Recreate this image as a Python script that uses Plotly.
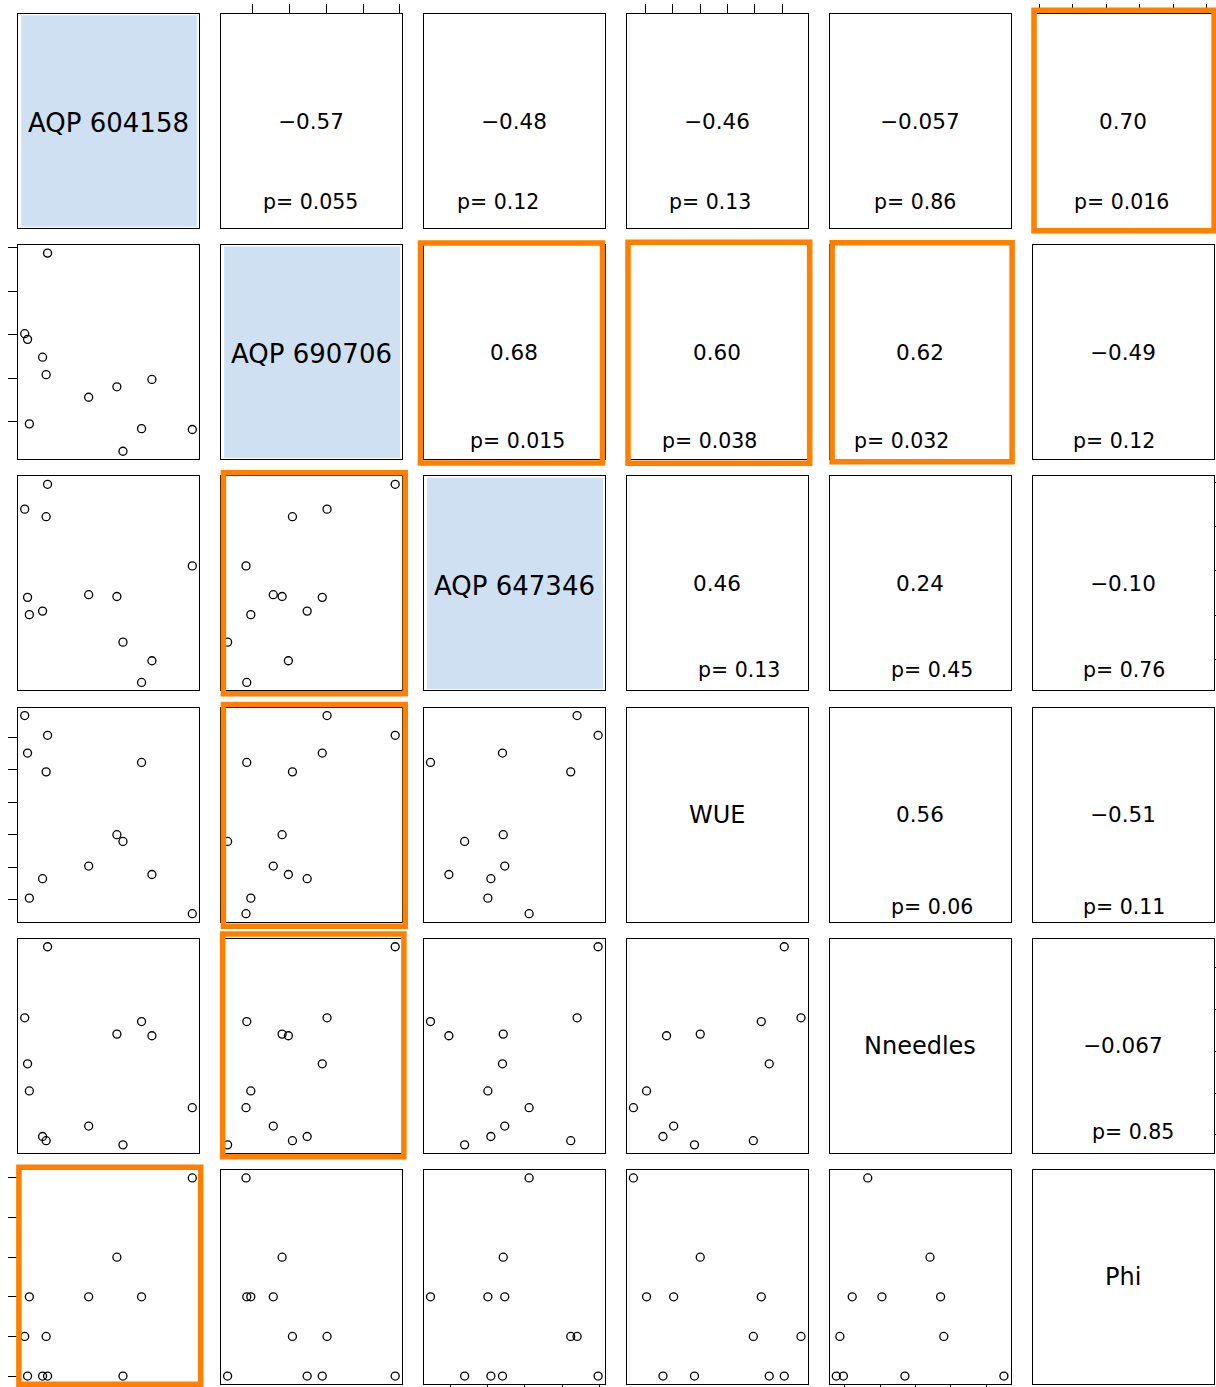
import numpy as np
import plotly.graph_objects as go

# ---------------- data ----------------
var_names = ["AQP 604158", "AQP 690706", "AQP 647346", "WUE", "Nneedles", "Phi"]

aqp_604158 = [0.72, 0.08, 0.16, 0.58, 0.68, 1.87, 2.66, 3.64, 0.21, 3.35, 4.77, 2.83]
aqp_690706 = [4.87, 3.02, 2.89, 2.48, 2.08, 1.56, 1.80, 1.97, 0.95, 0.84, 0.82, 0.32]
aqp_647346 = [4.95, 4.39, 2.40, 2.09, 4.22, 2.46, 2.42, 0.97, 2.01, 0.48, 3.11, 1.39]
wue = [7.07, 7.68, 6.52, 2.64, 5.94, 3.03, 4.00, 2.77, 2.04, 6.23, 1.56, 3.79]
nneedles = [65.0, 48.0, 37.0, 19.6, 18.6, 22.1, 44.1, 43.7, 30.5, 47.1, 26.5, 17.6]
phi = [0.75, 0.76, 0.75, 0.75, 0.76, 0.77, 0.78, None, 0.77, 0.77, 0.80, 0.75]

ticks_604158 = [0, 1, 2, 3, 4]
ticks_690706 = [1, 2, 3, 4, 5]
ticks_647346 = [1, 2, 3, 4, 5]
ticks_wue = [2, 3, 4, 5, 6, 7]
ticks_nneedles = [20, 30, 40, 50, 60]
ticks_phi = [0.75, 0.76, 0.77, 0.78, 0.79, 0.80]

# upper-panel correlation labels: (row, col) -> r, p
corr_r = {(0, 1): "\u22120.57", (0, 2): "\u22120.48", (0, 3): "\u22120.46", (0, 4): "\u22120.057",
          (0, 5): "0.70", (1, 2): "0.68", (1, 3): "0.60", (1, 4): "0.62", (1, 5): "\u22120.49",
          (2, 3): "0.46", (2, 4): "0.24", (2, 5): "\u22120.10", (3, 4): "0.56", (3, 5): "\u22120.51",
          (4, 5): "\u22120.067"}
corr_p = {(0, 1): "p= 0.055", (0, 2): "p= 0.12", (0, 3): "p= 0.13", (0, 4): "p= 0.86",
          (0, 5): "p= 0.016", (1, 2): "p= 0.015", (1, 3): "p= 0.038", (1, 4): "p= 0.032",
          (1, 5): "p= 0.12", (2, 3): "p= 0.13", (2, 4): "p= 0.45", (2, 5): "p= 0.76",
          (3, 4): "p= 0.06", (3, 5): "p= 0.11", (4, 5): "p= 0.85"}
highlighted = [(0, 5), (1, 2), (1, 3), (1, 4), (2, 1), (3, 1), (4, 1), (5, 0)]

# ---------------- layout / style ----------------
variables = [aqp_604158, aqp_690706, aqp_647346, wue, nneedles, phi]
tickvals = [ticks_604158, ticks_690706, ticks_647346, ticks_wue, ticks_nneedles, ticks_phi]
N = 6
W, H = 1216, 1387
LEFT0, COLSTEP, PW = 18.0, 202.9, 181.0
TOP0, ROWSTEP, PH = 14.0, 231.2, 214.0
FONT = "DejaVu Sans"

# p-label placement inside each panel (domain fractions)
p_pos = {(0, 1): 0.497, (0, 2): 0.411, (0, 3): 0.461, (0, 4): 0.472, (0, 5): 0.492,
         (1, 2): 0.519, (1, 3): 0.458, (1, 4): 0.397, (1, 5): 0.45,
         (2, 3): 0.622, (2, 4): 0.564, (2, 5): 0.506,
         (3, 4): 0.567, (3, 5): 0.508, (4, 5): 0.558}
p_y = {0: 0.121, 1: 0.084, 2: 0.094, 3: 0.07, 4: 0.098}
# orange frame offsets in px (left, right, top, bottom) relative to panel edges
box_off = {(0, 5): (1.5, 0.6, -3.7, 2.7), (1, 2): (-3.3, -2.3, -2.3, 3.7),
           (1, 3): (1.3, 2.0, -3.0, 4.0), (1, 4): (2.5, 1.5, -2.5, 2.5),
           (2, 1): (2.5, 3.4, -3.7, 3.3), (3, 1): (2.5, 3.4, -3.0, 4.7),
           (4, 1): (1.8, 2.0, -4.7, 4.0), (5, 0): (0.9, 1.7, -2.7, 0.2)}


def vrange(v):
    a = np.array([np.nan if x is None else x for x in v], dtype=float)
    lo, hi = np.nanmin(a), np.nanmax(a)
    r = hi - lo
    return [lo - 0.04 * r, hi + 0.04 * r]


ranges = [vrange(v) for v in variables]


def panel_px(i, j):
    x0 = LEFT0 + COLSTEP * j
    y0 = TOP0 + ROWSTEP * i
    return x0, x0 + PW, y0, y0 + PH


fig = go.Figure()
layout = dict(width=W, height=H, margin=dict(l=0, r=0, t=0, b=0),
              paper_bgcolor="white", plot_bgcolor="rgba(0,0,0,0)", showlegend=False)
annotations = []
shapes = []


def label(text, xd, yd, x, y, size):
    return dict(text=text, xref=xd, yref=yd, x=x, y=y, xanchor="center",
                yanchor="middle", showarrow=False,
                font=dict(family=FONT, size=size, color="black"))


for i in range(N):
    for j in range(N):
        k = i * N + j + 1
        sfx = "" if k == 1 else str(k)
        x0, x1, y0, y1 = panel_px(i, j)
        xa = dict(domain=[x0 / W, x1 / W], range=ranges[j], anchor="y" + sfx,
                  showgrid=False, zeroline=False, showline=True, mirror=True,
                  linecolor="black", linewidth=1.3, showticklabels=False,
                  ticks="", fixedrange=True)
        ya = dict(domain=[1 - y1 / H, 1 - y0 / H], range=ranges[i], anchor="x" + sfx,
                  showgrid=False, zeroline=False, showline=True, mirror=True,
                  linecolor="black", linewidth=1.3, showticklabels=False,
                  ticks="", fixedrange=True)
        tk = dict(ticks="outside", tickwidth=1.3, tickcolor="black")
        # ticks at the picture's right/bottom edges are cut off in the reference
        if i == 0 and j % 2 == 1:
            xa.update(side="top", tickvals=tickvals[j], ticklen=9, **tk)
        if i == N - 1 and j % 2 == 0:
            xa.update(side="bottom", tickvals=tickvals[j], ticklen=2.5, **tk)
        if j == 0 and i % 2 == 1:
            ya.update(side="left", tickvals=tickvals[i], ticklen=9, **tk)
        if j == N - 1 and i % 2 == 0:
            ya.update(side="right", tickvals=tickvals[i], ticklen=2.5, **tk)
        layout["xaxis" + sfx] = xa
        layout["yaxis" + sfx] = ya

        xd, yd = "x" + sfx + " domain", "y" + sfx + " domain"
        if i > j:
            fig.add_trace(go.Scatter(
                x=variables[j], y=variables[i], mode="markers",
                xaxis="x" + sfx, yaxis="y" + sfx, hoverinfo="skip",
                marker=dict(symbol="circle-open", size=8, color="black",
                            line=dict(width=1.3))))
        else:
            # empty trace so that the subplot (frame, ticks) is created
            fig.add_trace(go.Scatter(x=[None], y=[None], mode="markers",
                                     xaxis="x" + sfx, yaxis="y" + sfx,
                                     hoverinfo="skip", marker=dict(opacity=0)))
            if i == j:
                if i < 3:
                    shapes.append(dict(type="rect", xref=xd, yref=yd, x0=0.018, x1=0.99,
                                       y0=0.006, y1=0.994, fillcolor="#cfe0f2",
                                       line=dict(width=0), layer="below"))
                    annotations.append(label(var_names[i], xd, yd, 0.5, 0.49, 26))
                else:
                    annotations.append(label(var_names[i], xd, yd, 0.5, 0.5, 24))
            else:
                annotations.append(label(corr_r[(i, j)], xd, yd, 0.5, 0.5, 21.5))
                annotations.append(label(corr_p[(i, j)], xd, yd, p_pos[(i, j)], p_y[i], 20.5))

for (i, j) in highlighted:
    x0, x1, y0, y1 = panel_px(i, j)
    dl, dr, dt, db = box_off[(i, j)]
    shapes.append(dict(type="rect", xref="paper", yref="paper",
                       x0=(x0 + dl) / W, x1=(x1 + dr) / W,
                       y0=1 - (y1 + db) / H, y1=1 - (y0 + dt) / H,
                       line=dict(color="#ff7f00", width=5.5), layer="above"))

layout["annotations"] = annotations
layout["shapes"] = shapes
fig.update_layout(**layout)

fig.write_html("out.html", config={"displayModeBar": False},
               post_script=("document.body.style.margin='0';"
                            "document.body.style.overflow='hidden';"
                            "document.documentElement.style.overflow='hidden';"))
